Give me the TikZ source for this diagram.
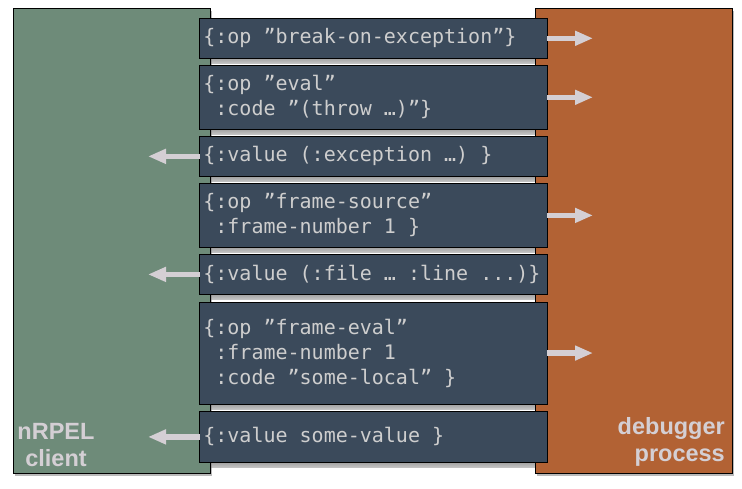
\documentclass[tikz,border=0pt]{standalone}
\usepackage{fontspec}
\setmonofont[WordSpace={1,0,0}]{DejaVu Sans Mono}
\setsansfont{Liberation Sans}
\usetikzlibrary{
    arrows.meta,
    positioning,
    shadows,
    backgrounds
}
\definecolor{ClientGreen}{RGB}{110,139,121}
\definecolor{DebugOrange}{RGB}{178,98,52}
\definecolor{MsgSlate}{RGB}{59,74,91}
\definecolor{MsgText}{RGB}{206,206,206}
\definecolor{ArrowGray}{RGB}{212,207,212}
\pgfdeclarelayer{bottom}
\pgfsetlayers{bottom,background,main}
\tikzset{
  panel/.style   = {draw=black, line width=0.8pt, minimum width=197pt,
                    minimum height=464.7pt, anchor=north west,
                    drop shadow={shadow xshift=2pt, shadow yshift=-3pt, opacity=0.55}},
  msg/.style     = {draw=black, line width=0.8pt, fill=MsgSlate, text=MsgText,
                    font=\ttfamily\fontsize{20}{25}\selectfont, align=flush left,
                    text width=340pt, inner xsep=3.65pt, inner ysep=0pt, outer sep=0pt},
  tagtext/.style = {text=ArrowGray, inner sep=0pt,
                    font=\sffamily\bfseries\fontsize{23.5}{27.5}\selectfont},
  toDbg/.style   = {-{Triangle[length=18pt,width=14pt]}, line width=5.5pt, ArrowGray},
  toCli/.style   = {-{Triangle[length=18pt,width=14pt]}, line width=5.5pt, ArrowGray}
}

\begin{document}
\begin{tikzpicture}[x=1pt, y=-1pt]
\useasboundingbox (0,0) rectangle (742,488);
% the two processes
\begin{pgfonlayer}{background}
\node[panel, fill=ClientGreen] (client) at (12.7,8) {};
\node[panel, fill=DebugOrange] (debugger) at (534.7,8) {};
\end{pgfonlayer}
\node[tagtext, align=center, anchor=south] (cliname) at (56,467) {nRPEL\\client};
\node[tagtext, align=right, anchor=south east] (dbgname) at (725,467) {debugger\\process};
% messages
\node[msg, anchor=north west, minimum height=39.2pt] (brk) at (199.7,18.7)
    {\{:op ”break-on-exception”\}};
\node[msg, minimum height=63.2pt, below=7.8pt of brk] (evl)
    {\{:op ”eval”\\\ :code ”(throw …)”\}};
\node[msg, minimum height=39.9pt, below=7.5pt of evl] (exc)
    {\{:value (:exception …) \}};
\node[msg, minimum height=63.2pt, below=7.5pt of exc] (src)
    {\{:op ”frame-source”\\\ :frame-number 1 \}};
\node[msg, minimum height=39.2pt, below=7.8pt of src] (loc)
    {\{:value (:file … :line ...)\}};
\node[msg, minimum height=101.9pt, below=8.1pt of loc] (feval)
    {\{:op ”frame-eval”\\\ :frame-number 1\\\ :code ”some-local” \}};
\node[msg, minimum height=50.2pt, below=7.8pt of feval] (res)
    {\{:value some-value \}};
% shadows under the messages
\begin{pgfonlayer}{bottom}
\foreach \m in {brk,evl,exc,src,loc,feval,res}
  \fill[top color=gray!75, bottom color=gray!45]
    (\m.south west) rectangle ([yshift=-5.5pt]\m.south east);
\end{pgfonlayer}
% arrows
\coordinate (dbgTip) at (593,0);
\coordinate (cliTip) at (148,0);
\draw[toDbg] (brk.east)   -- (brk.east -| dbgTip);
\draw[toDbg] (evl.east)   -- (evl.east -| dbgTip);
\draw[toCli] (exc.west)   -- (exc.west -| cliTip);
\draw[toDbg] (src.east)   -- (src.east -| dbgTip);
\draw[toCli] (loc.west)   -- (loc.west -| cliTip);
\draw[toDbg] (feval.east) -- (feval.east -| dbgTip);
\draw[toCli] (res.west)   -- (res.west -| cliTip);
\end{tikzpicture}
\end{document}
